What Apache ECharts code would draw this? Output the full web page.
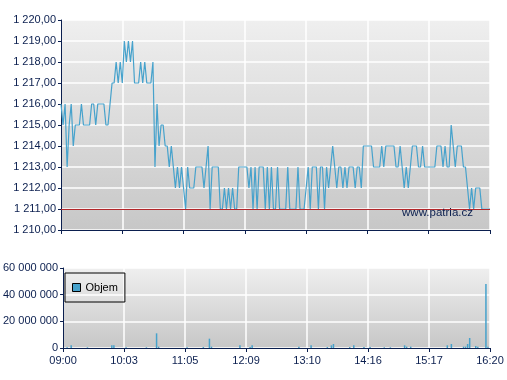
<!DOCTYPE html>
<html>
<head>
<meta charset="utf-8">
<script src="https://cdn.jsdelivr.net/npm/echarts@6/dist/echarts.min.js"></script>
<style>html,body{margin:0;padding:0;background:#fff}#c{width:507px;height:380px}</style>
</head>
<body>
<div id="c"></div>
<script>
const tickLabels = ['09:00','10:03','11:05','12:09','13:10','14:16','15:17','16:20'];
const slotsPerTick = 30;
const referencePrice = 1211;
const price = [
1216,1215,1216,1213,1215,1216,1214,1215,1215,1215,
1216,1215,1215,1215,1215,1216,1216,1215,1216,1216,
1216,1216,1215,1215,1216,1217,1217,1218,1217,1218,
1217,1219,1218,1219,1218,1219,1217,1217,1217,1218,
1217,1218,1217,1217,1217,1218,1213,1216,1214,1215,
1215,1214,1214,1213,1214,1213,1212,1213,1212,1213,
1212,1211,1213,1212,1212,1212,1213,1213,1213,1213,
1212,1213,1214,1211,1213,1213,1213,1213,1211,1211,
1212,1211,1212,1211,1212,1211,1211,1213,1213,1213,
1213,1213,1212,1213,1211,1213,1211,1213,1213,1213,
1211,1213,1211,1213,1211,1211,1213,1211,1211,1211,
1211,1213,1211,1211,1211,1211,1213,1211,1211,1211,
1212,1213,1211,1213,1213,1213,1211,1213,1213,1211,
1213,1212,1213,1214,1213,1212,1213,1213,1212,1213,
1212,1213,1213,1213,1212,1213,1213,1212,1214,1214,
1214,1214,1214,1213,1213,1213,1213,1214,1213,1214,
1214,1214,1214,1214,1213,1213,1214,1213,1212,1213,
1212,1213,1214,1214,1214,1213,1213,1214,1213,1213,
1213,1213,1213,1213,1214,1214,1214,1213,1214,1213,
1213,1215,1214,1213,1214,1214,1214,1213,1213,1212,
1211,1212,1211,1212,1212,1212,1211,1211,1211,1211,1211
];
const volumeSlots  = [2, 4, 12, 24, 25, 31, 41, 46, 47, 61, 69, 72, 73, 87, 92, 93, 116, 122, 130, 132, 133, 141, 143, 148, 151, 158, 161, 168, 169, 171, 189, 191, 197, 198, 199, 200, 203, 204, 208, 209];
const volumeValues = [500000, 2000000, 500000, 2000000, 2000000, 500000, 500000, 11000000, 1000000, 500000, 700000, 7000000, 1000000, 2000000, 700000, 2000000, 1000000, 2000000, 700000, 2000000, 3000000, 700000, 2000000, 700000, 700000, 500000, 500000, 2000000, 1000000, 1000000, 2000000, 3000000, 1000000, 1000000, 3000000, 7500000, 1500000, 1000000, 48000000, 1000000];

const categories = price.map((_, i) => String(i));
const volume = price.map(() => 0);
volumeSlots.forEach((s, k) => { volume[s] = volumeValues[k]; });

const navy = '#0b1f4f';
const blue = '#46a2cc';
const font = 'Liberation Sans, Arial, sans-serif';
const bg = () => new echarts.graphic.LinearGradient(0, 0, 0, 1, [
  {offset: 0, color: '#efefef'}, {offset: 1, color: '#c7c7c7'}
]);
function groupThousands(intStr) {
  return intStr.replace(/\B(?=(\d{3})+(?!\d))/g, ' ');
}
const priceFmt = v => { const p = v.toFixed(2).split('.'); return groupThousands(p[0]) + ',' + p[1]; };
const volFmt = v => groupThousands(String(Math.round(v)));
const isTick = idx => idx % slotsPerTick === 0;

const xCommon = {
  type: 'category', data: categories, boundaryGap: false,
  axisLine: {lineStyle: {color: navy, width: 1}},
  axisTick: {show: true, interval: slotsPerTick - 1, length: 4, lineStyle: {color: navy}},
  splitLine: {show: true, interval: slotsPerTick - 1, lineStyle: {color: '#ffffff', width: 1.5}},
};

const chart = echarts.init(document.getElementById('c'), null, {renderer: 'canvas'});
chart.setOption({
  animation: false,
  backgroundColor: '#fff',
  textStyle: {fontFamily: font},
  grid: [
    {left: 61, right: 17, top: 20, height: 210, show: true, backgroundColor: bg(), borderWidth: 0},
    {left: 61, right: 17, top: 268, height: 80, show: true, backgroundColor: bg(), borderWidth: 0}
  ],
  legend: {
    left: 65, top: 273, padding: [9, 7, 9, 7],
    borderColor: '#000', borderWidth: 1, backgroundColor: 'transparent',
    itemWidth: 8, itemHeight: 8, itemGap: 5, icon: 'rect',
    textStyle: {color: '#000', fontSize: 11, fontFamily: font},
    data: [{name: 'Objem', itemStyle: {color: blue, borderColor: '#000', borderWidth: 1}}]
  },
  xAxis: [
    Object.assign({}, xCommon, {gridIndex: 0, axisLabel: {show: false}}),
    Object.assign({}, xCommon, {gridIndex: 1,
      axisLabel: {show: true, interval: slotsPerTick - 1, margin: 7, color: navy, fontSize: 11, fontFamily: font,
        formatter: (v, idx) => isTick(idx) ? tickLabels[idx / slotsPerTick] : ''}})
  ],
  yAxis: [
    {gridIndex: 0, type: 'value', min: 1210, max: 1220, interval: 1,
     axisLine: {show: true, lineStyle: {color: navy}},
     axisTick: {show: true, length: 3, lineStyle: {color: navy}},
     axisLabel: {color: navy, fontSize: 11, margin: 5, fontFamily: font, formatter: priceFmt},
     splitLine: {lineStyle: {color: '#ffffff', width: 1.5}}},
    {gridIndex: 1, type: 'value', min: 0, max: 60000000, interval: 20000000,
     axisLine: {show: true, lineStyle: {color: navy}},
     axisTick: {show: true, length: 3, lineStyle: {color: navy}},
     axisLabel: {color: navy, fontSize: 11, margin: 5, fontFamily: font, formatter: volFmt},
     splitLine: {lineStyle: {color: '#ffffff', width: 1.5}}}
  ],
  series: [
    {name: 'Cena', type: 'line', xAxisIndex: 0, yAxisIndex: 0, data: price,
     showSymbol: false, symbol: 'none', lineStyle: {color: blue, width: 1.2}, itemStyle: {color: blue},
     markLine: {silent: true, symbol: 'none', label: {show: false},
       lineStyle: {color: '#b3262a', width: 1, type: 'solid'}, data: [{yAxis: referencePrice}]}},
    {name: 'Objem', type: 'bar', xAxisIndex: 1, yAxisIndex: 1, data: volume,
     barWidth: 1.5, itemStyle: {color: blue}}
  ],
  graphic: [
    {type: 'text', right: 34, top: 207, z: 100,
     style: {text: 'www.patria.cz', fill: navy, font: '11.5px ' + font}}
  ]
});
</script>
</body>
</html>
